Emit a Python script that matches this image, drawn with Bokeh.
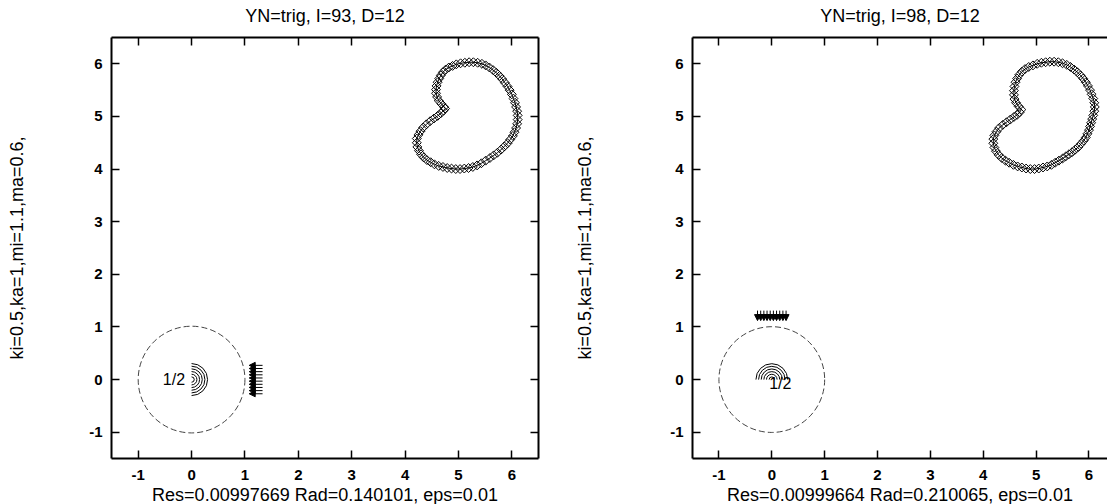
from bokeh.plotting import figure
from bokeh.layouts import row
from bokeh.models import (Range1d, LinearAxis, FixedTicker, Title, Arrow,
                          NormalHead, ColumnDataSource, CustomLabelingPolicy)
from bokeh.core.properties import value
from bokeh.embed import file_html
from bokeh.resources import INLINE

FONT = "Liberation Sans"

# ---------------- data ----------------
tick_values = [-1, 0, 1, 2, 3, 4, 5, 6]
tick_labels = ["-1", "0", "1", "2", "3", "4", "5", "6"]

titles = ["YN=trig, I=93, D=12", "YN=trig, I=98, D=12"]
bottom_labels = ["Res=0.00997669 Rad=0.140101, eps=0.01",
                 "Res=0.00999664 Rad=0.210065, eps=0.01"]
y_labels = ["ki=0.5,ka=1,mi=1.1,ma=0.6,", "ki=0.5,ka=1,mi=1.1,ma=0.6,"]

curve1_x = [4.73, 4.68, 4.63, 4.60, 4.58, 4.58, 4.59, 4.61, 4.64, 4.67, 4.71, 4.76, 4.82, 4.89,
            4.96, 5.04, 5.12, 5.20, 5.28, 5.36, 5.44, 5.51, 5.58, 5.65, 5.71, 5.77, 5.82, 5.87,
            5.92, 5.96, 6.00, 6.03, 6.06, 6.08, 6.10, 6.11, 6.11, 6.10, 6.08, 6.05, 6.02, 5.97,
            5.92, 5.86, 5.80, 5.73, 5.66, 5.59, 5.51, 5.43, 5.35, 5.27, 5.19, 5.11, 5.03, 4.95,
            4.87, 4.79, 4.71, 4.63, 4.55, 4.48, 4.41, 4.35, 4.30, 4.26, 4.23, 4.22, 4.22, 4.25,
            4.29, 4.34, 4.40, 4.47, 4.54, 4.61, 4.67, 4.72, 4.75]
curve1_y = [5.18, 5.24, 5.30, 5.37, 5.44, 5.51, 5.58, 5.65, 5.72, 5.78, 5.84, 5.89, 5.93, 5.96,
            5.99, 6.01, 6.02, 6.03, 6.03, 6.02, 6.00, 5.97, 5.93, 5.88, 5.83, 5.77, 5.71, 5.64,
            5.57, 5.50, 5.42, 5.34, 5.26, 5.18, 5.10, 5.02, 4.94, 4.86, 4.78, 4.70, 4.63, 4.56,
            4.49, 4.43, 4.37, 4.31, 4.26, 4.21, 4.16, 4.11, 4.07, 4.04, 4.02, 4.01, 4.00, 4.00,
            4.01, 4.02, 4.04, 4.06, 4.09, 4.13, 4.17, 4.22, 4.28, 4.35, 4.42, 4.50, 4.58, 4.65,
            4.72, 4.79, 4.85, 4.91, 4.96, 5.01, 5.06, 5.11, 5.15]

curve2_x = [4.72, 4.67, 4.62, 4.59, 4.58, 4.58, 4.59, 4.61, 4.64, 4.68, 4.73, 4.79, 4.86, 4.94,
            5.02, 5.10, 5.18, 5.26, 5.34, 5.42, 5.50, 5.58, 5.65, 5.72, 5.78, 5.84, 5.89, 5.94,
            5.98, 6.02, 6.05, 6.08, 6.10, 6.11, 6.10, 6.08, 6.06, 6.04, 6.02, 6.00, 5.97, 5.94,
            5.90, 5.85, 5.80, 5.74, 5.68, 5.62, 5.56, 5.50, 5.43, 5.36, 5.29, 5.21, 5.13, 5.05,
            4.97, 4.89, 4.81, 4.73, 4.65, 4.57, 4.49, 4.42, 4.35, 4.29, 4.24, 4.21, 4.19, 4.19,
            4.21, 4.25, 4.30, 4.37, 4.44, 4.51, 4.58, 4.64, 4.69]
curve2_y = [5.13, 5.19, 5.26, 5.33, 5.41, 5.49, 5.57, 5.65, 5.72, 5.79, 5.85, 5.90, 5.94, 5.97,
            6.00, 6.02, 6.03, 6.04, 6.04, 6.03, 6.01, 5.98, 5.94, 5.89, 5.84, 5.78, 5.72, 5.65,
            5.58, 5.50, 5.42, 5.34, 5.26, 5.18, 5.10, 5.02, 4.95, 4.88, 4.81, 4.74, 4.67, 4.60,
            4.54, 4.48, 4.42, 4.37, 4.32, 4.28, 4.24, 4.20, 4.16, 4.12, 4.08, 4.05, 4.03, 4.01,
            4.00, 4.00, 4.01, 4.03, 4.05, 4.08, 4.12, 4.16, 4.21, 4.27, 4.34, 4.41, 4.49, 4.57,
            4.64, 4.71, 4.78, 4.84, 4.89, 4.94, 4.99, 5.03, 5.08]

circle_x = [0.0]
circle_y = [0.0]
circle_r = [1.0]

arc_radii = [0.05, 0.10, 0.15, 0.20, 0.25, 0.30]
arc1_angles = (-90, 90)
arc2_angles = (0, 180)

half_text = ["1/2"]
half1_pos = ([-0.33], [0.0])
half2_pos = ([0.16], [-0.07])

# panel 1: horizontal arrows pointing left
arrows1_y = [-0.27, -0.21, -0.15, -0.09, -0.03, 0.03, 0.09, 0.15, 0.21, 0.27]
arrows1_x_start = 1.33
arrows1_x_end = 1.08
# panel 2: vertical arrows pointing down
arrows2_x = [-0.27, -0.21, -0.15, -0.09, -0.03, 0.03, 0.09, 0.15, 0.21, 0.27]
arrows2_y_start = 1.31
arrows2_y_end = 1.12

NO_LABELS = "for (const i of Array.from(indices)) { indices.unset(i) }\nreturn indices"


def style_axis(ax, labels=True):
    ax.ticker = FixedTicker(ticks=tick_values)
    ax.minor_tick_line_color = None
    ax.major_tick_in = 8
    ax.major_tick_out = 0
    ax.major_tick_line_width = 1.5
    ax.major_tick_line_color = "black"
    ax.axis_line_width = 2
    ax.axis_line_color = "black"
    if labels:
        ax.major_label_overrides = {v: l for v, l in zip(tick_values, tick_labels)}
        ax.major_label_text_font = FONT
        ax.major_label_text_font_size = "15px"
        ax.major_label_text_font_style = "bold"
        ax.major_label_text_color = "black"
    else:
        ax.major_label_policy = CustomLabelingPolicy(code=NO_LABELS)
        ax.major_label_text_font_size = "1px"
        ax.major_label_standoff = 0


def make_panel(idx, width, x_end, left_border, right_border, cx, cy, arc_angles,
               hpos, arrow_src, right_axis, ylabel_standoff):
    p = figure(width=width, height=504,
               x_range=Range1d(-1.5, x_end), y_range=Range1d(-1.5, 6.5),
               output_backend="svg", toolbar_location=None,
               x_axis_location=None, y_axis_location=None,
               min_border_left=left_border, min_border_right=right_border,
               min_border_top=37, min_border_bottom=45,
               title=titles[idx])
    p.outline_line_color = None
    p.xgrid.visible = False
    p.ygrid.visible = False
    p.background_fill_color = "white"
    p.border_fill_color = "white"

    p.title.text_font = FONT
    p.title.text_font_size = "18px"
    p.title.text_font_style = "normal"
    p.title.text_color = "black"
    p.title.align = "center"
    p.title.vertical_align = "top"
    p.title.standoff = 11

    left = LinearAxis(axis_label=y_labels[idx])
    style_axis(left)
    left.major_label_standoff = 9
    left.axis_label_text_font = FONT
    left.axis_label_text_font_size = "18px"
    left.axis_label_text_font_style = "normal"
    left.axis_label_text_color = "black"
    left.axis_label_standoff = ylabel_standoff
    p.add_layout(left, "left")

    bottom = LinearAxis()
    style_axis(bottom)
    bottom.major_label_standoff = 11
    p.add_layout(bottom, "below")

    top = LinearAxis()
    style_axis(top, labels=False)
    p.add_layout(top, "above")

    if right_axis:
        right = LinearAxis()
        style_axis(right, labels=False)
        p.add_layout(right, "right")

    p.add_layout(Title(text=bottom_labels[idx], text_font=FONT, text_font_size="18px",
                       text_font_style="normal", text_color="black", align="center",
                       standoff=0), "below")

    # dashed unit circle
    p.circle(x=circle_x, y=circle_y, radius=circle_r, fill_color=None,
             line_color="#444444", line_width=1, line_dash="6 3")

    # concentric half arcs
    n = len(arc_radii)
    p.arc(x=[0.0] * n, y=[0.0] * n, radius=arc_radii,
          start_angle=arc_angles[0], end_angle=arc_angles[1],
          start_angle_units="deg", end_angle_units="deg",
          line_color="black", line_width=1)

    p.text(x=hpos[0], y=hpos[1], text=half_text, text_font=value(FONT),
           text_font_size=value("16px"), text_align="center",
           text_baseline="middle", text_color="black")

    # arrows
    p.add_layout(Arrow(source=arrow_src, x_start="x_start", y_start="y_start",
                       x_end="x_end", y_end="y_end", line_color="black", line_width=1,
                       end=NormalHead(size=6, fill_color="black", line_color="black",
                                      line_width=1)))

    # closed curve with diamond markers
    p.line(x=cx + cx[:1], y=cy + cy[:1], line_color="black", line_width=1)
    p.scatter(x=cx, y=cy, marker="square", angle=0.785398, size=6.3,
              fill_color=None, line_color="black", line_width=1)
    return p


src1 = ColumnDataSource(dict(
    x_start=[arrows1_x_start] * len(arrows1_y), y_start=arrows1_y,
    x_end=[arrows1_x_end] * len(arrows1_y), y_end=arrows1_y))
src2 = ColumnDataSource(dict(
    x_start=arrows2_x, y_start=[arrows2_y_start] * len(arrows2_x),
    x_end=arrows2_x, y_end=[arrows2_y_end] * len(arrows2_x)))

p1 = make_panel(0, 572, 6.5, 111, 34, curve1_x, curve1_y, arc1_angles, half1_pos,
                src1, True, ylabel_standoff=59)
p2 = make_panel(1, 535, 6.35, 116, 0, curve2_x, curve2_y, arc2_angles, half2_pos,
                src2, False, ylabel_standoff=72)

layout = row(p1, p2)
open("out.html", "w").write(file_html(layout, INLINE))
